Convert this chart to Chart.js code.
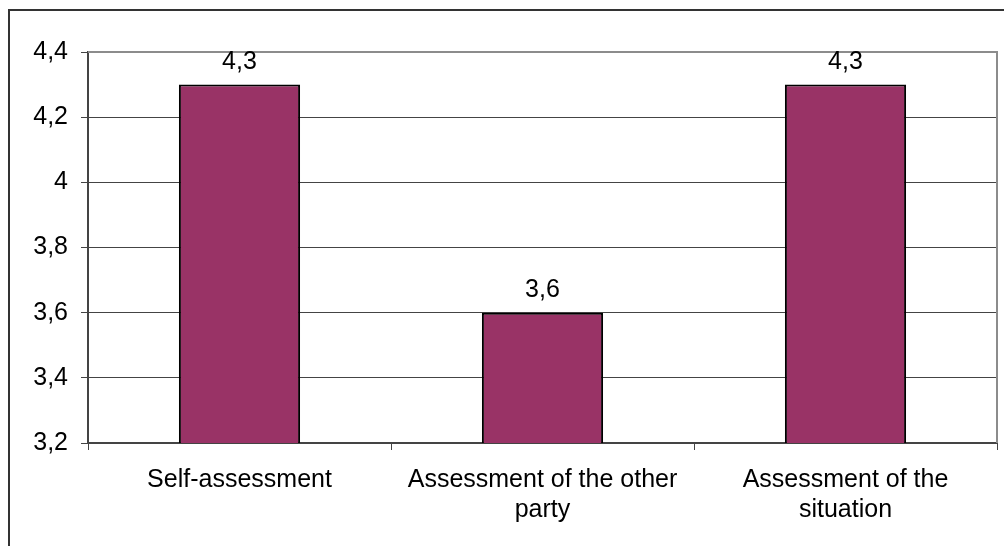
<!DOCTYPE html>
<html>
<head>
<meta charset="utf-8">
<script src="https://cdn.jsdelivr.net/npm/chart.js@4"></script>
<style>
  html, body { margin: 0; padding: 0; background: #fff; }
  #wrap { width: 1004px; height: 546px; position: relative; }
</style>
</head>
<body>
<div id="wrap"><canvas id="assessmentChart" width="1004" height="546"></canvas></div>
<script>
var categories = [
    ["Self-assessment"],
    ["Assessment of the other", "party"],
    ["Assessment of the", "situation"]
];
var scores = [4.3, 3.6, 4.3];
var yMin = 3.2;
var yMax = 4.4;
var yStep = 0.2;

var fontFamily = '"Liberation Sans", Arial, sans-serif';

function commaNumber(v) {
    return String(Number(v.toFixed(1))).replace('.', ',');
}

// outer frame + value labels above bars
var framePlugin = {
    id: 'framePlugin',
    beforeDraw: function(chart) {
        var ctx = chart.ctx;
        ctx.save();
        ctx.fillStyle = '#fff';
        ctx.fillRect(0, 0, chart.width, chart.height);
        ctx.strokeStyle = '#333';
        ctx.lineWidth = 2;
        ctx.beginPath();
        ctx.moveTo(9, chart.height);
        ctx.lineTo(9, 10);
        ctx.lineTo(chart.width, 10);
        ctx.stroke();
        ctx.restore();
    },
    afterDatasetsDraw: function(chart) {
        var ctx = chart.ctx;
        var area = chart.chartArea;
        ctx.save();
        // plot area border (top and right), light gray
        ctx.strokeStyle = '#8c8c8c';
        ctx.lineWidth = 2;
        ctx.beginPath();
        ctx.moveTo(area.left, area.top);
        ctx.lineTo(area.right, area.top);
        ctx.lineTo(area.right, area.bottom);
        ctx.stroke();

        ctx.fillStyle = '#000';
        ctx.font = '25px ' + fontFamily;
        ctx.textAlign = 'center';
        ctx.textBaseline = 'alphabetic';
        var meta = chart.getDatasetMeta(0);
        meta.data.forEach(function(bar, i) {
            ctx.fillText(commaNumber(scores[i]), bar.x, bar.y - 16);
        });
        ctx.restore();
    }
};

var ctx = document.getElementById('assessmentChart').getContext('2d');

var assessmentChart = new Chart(ctx, {
    type: 'bar',
    data: {
        labels: categories,
        datasets: [
            {
                label: 'Score',
                data: scores,
                backgroundColor: '#993366',
                borderColor: '#000',
                borderWidth: 2,
                borderSkipped: false,
                barPercentage: 0.4,
                categoryPercentage: 1.0
            }
        ]
    },
    options: {
        responsive: false,
        animation: false,
        devicePixelRatio: 1,
        layout: {
            padding: { top: 52, left: 10, right: 7, bottom: 0 }
        },
        plugins: {
            legend: { display: false },
            tooltip: { enabled: false }
        },
        scales: {
            x: {
                offset: true,
                grid: {
                    offset: true,
                    drawOnChartArea: false,
                    drawTicks: true,
                    tickLength: 7,
                    color: '#444'
                },
                border: { color: '#444', width: 2 },
                ticks: {
                    color: '#000',
                    padding: 15,
                    maxRotation: 0,
                    autoSkip: false,
                    font: { family: fontFamily, size: 25, lineHeight: 1.2 }
                },
                afterFit: function(scale) { scale.height = 103; }
            },
            y: {
                min: yMin,
                max: yMax,
                ticks: {
                    stepSize: yStep,
                    color: '#000',
                    padding: 13,
                    font: { family: fontFamily, size: 25 },
                    callback: function(v) { return commaNumber(v); }
                },
                grid: {
                    color: '#444',
                    lineWidth: 1,
                    tickLength: 7
                },
                border: { color: '#444', width: 2 },
                afterFit: function(scale) { scale.width = 78; }
            }
        }
    },
    plugins: [framePlugin]
});
</script>
</body>
</html>
